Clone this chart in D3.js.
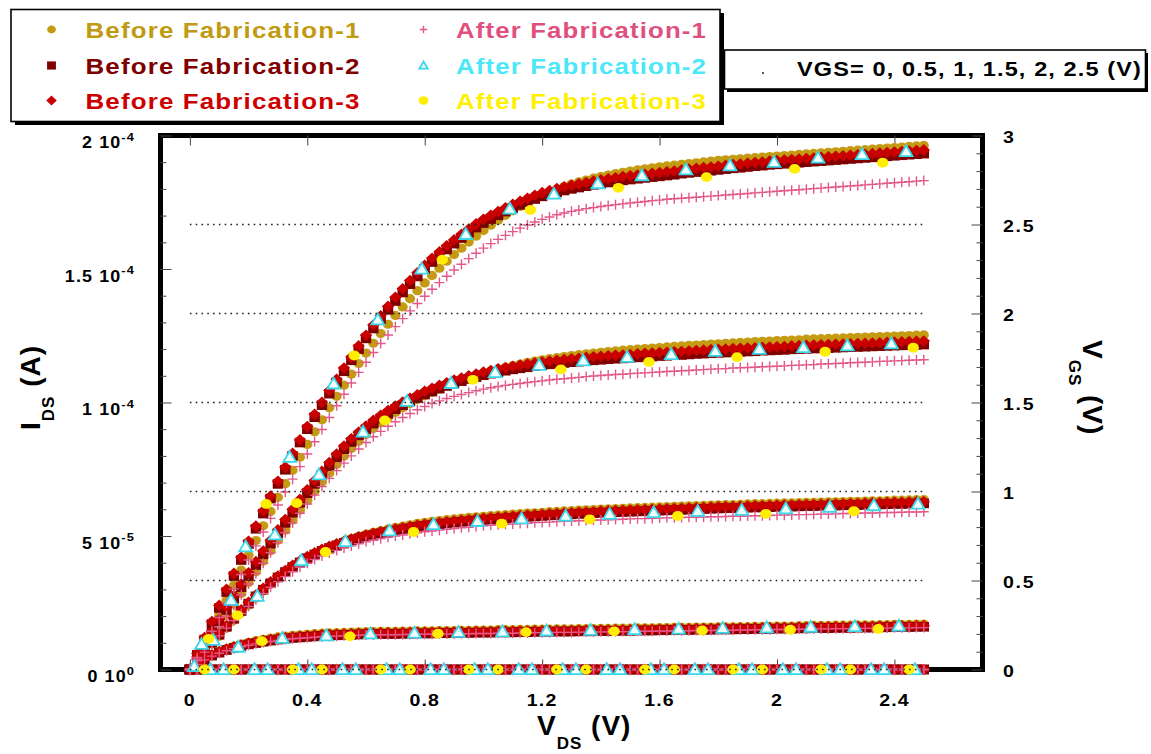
<!DOCTYPE html>
<html>
<head>
<meta charset="utf-8">
<script src="https://cdn.jsdelivr.net/npm/d3@7"></script>
<style>
  body { margin: 0; background: #fff; }
  svg { display: block; }
  text { font-family: "Liberation Sans", Arial, Helvetica, sans-serif; font-weight: bold; }
</style>
</head>
<body>
<svg id="chart" width="1151" height="754"></svg>
<script>
// ---- Data: drain current I_DS in units of 1e-5 A, sampled on the V_DS grid ----
const vds = [0,0.025,0.05,0.075,0.1,0.125,0.15,0.175,0.2,0.225,
  0.25,0.275,0.3,0.325,0.35,0.375,0.4,0.425,0.45,0.475,
  0.5,0.525,0.55,0.575,0.6,0.625,0.65,0.675,0.7,0.725,
  0.75,0.775,0.8,0.825,0.85,0.875,0.9,0.925,0.95,0.975,
  1,1.025,1.05,1.075,1.1,1.125,1.15,1.175,1.2,1.225,
  1.25,1.275,1.3,1.325,1.35,1.375,1.4,1.425,1.45,1.475,
  1.5,1.525,1.55,1.575,1.6,1.625,1.65,1.675,1.7,1.725,
  1.75,1.775,1.8,1.825,1.85,1.875,1.9,1.925,1.95,1.975,
  2,2.025,2.05,2.075,2.1,2.125,2.15,2.175,2.2,2.225,
  2.25,2.275,2.3,2.325,2.35,2.375,2.4,2.425,2.45,2.475,
  2.5];

const vgsLevels = [0, 0.5, 1, 1.5, 2, 2.5];

// Device off (VGS = 0 and 0.5 V): no measurable current
const idsOff = [0,0,0,0,0,0,0,0,0,0, 0,0,0,0,0,0,0,0,0,0, 0,0,0,0,0,0,0,0,0,0,
  0,0,0,0,0,0,0,0,0,0, 0,0,0,0,0,0,0,0,0,0, 0,0,0,0,0,0,0,0,0,0,
  0,0,0,0,0,0,0,0,0,0, 0,0,0,0,0,0,0,0,0,0, 0,0,0,0,0,0,0,0,0,0,
  0,0,0,0,0,0,0,0,0,0, 0];

// Before Fabrication-1
const b1Vgs10 = [0,0.21,0.4,0.55,0.67,0.78,0.87,0.95,1.02,1.08,
  1.13,1.18,1.22,1.25,1.28,1.3,1.32,1.34,1.36,1.37,
  1.38,1.39,1.4,1.41,1.42,1.42,1.43,1.43,1.43,1.44,
  1.44,1.45,1.45,1.45,1.46,1.46,1.46,1.47,1.47,1.48,
  1.48,1.48,1.49,1.49,1.49,1.5,1.5,1.51,1.51,1.51,
  1.52,1.52,1.52,1.53,1.53,1.53,1.54,1.54,1.55,1.55,
  1.55,1.56,1.56,1.56,1.57,1.57,1.58,1.58,1.58,1.59,
  1.59,1.59,1.6,1.6,1.6,1.61,1.61,1.62,1.62,1.62,
  1.63,1.63,1.63,1.64,1.64,1.65,1.65,1.65,1.66,1.66,
  1.66,1.67,1.67,1.67,1.68,1.68,1.69,1.69,1.69,1.7,
  1.7];
const b1Vgs15 = [0,0.33,0.64,0.95,1.25,1.55,1.84,2.13,2.41,2.68,
  2.94,3.19,3.42,3.63,3.83,4.01,4.18,4.33,4.47,4.59,
  4.7,4.8,4.9,4.99,5.07,5.14,5.2,5.26,5.32,5.37,
  5.42,5.47,5.51,5.55,5.58,5.61,5.64,5.67,5.7,5.72,
  5.74,5.76,5.78,5.8,5.82,5.84,5.86,5.87,5.89,5.91,
  5.92,5.94,5.95,5.97,5.98,5.99,6.01,6.02,6.03,6.04,
  6.05,6.06,6.07,6.08,6.09,6.1,6.11,6.12,6.13,6.14,
  6.15,6.16,6.17,6.18,6.18,6.19,6.2,6.21,6.21,6.22,
  6.23,6.24,6.24,6.25,6.26,6.26,6.27,6.28,6.28,6.29,
  6.3,6.3,6.31,6.32,6.32,6.33,6.34,6.34,6.35,6.36,
  6.36];
const b1Vgs20 = [0,0.4,0.8,1.2,1.62,2.03,2.44,2.85,3.26,3.66,
  4.06,4.45,4.84,5.22,5.6,5.97,6.33,6.68,7.02,7.35,
  7.68,7.99,8.28,8.55,8.8,9.03,9.24,9.44,9.63,9.8,
  9.96,10.11,10.25,10.38,10.5,10.62,10.73,10.83,10.93,11.02,
  11.1,11.18,11.25,11.32,11.38,11.44,11.5,11.55,11.6,11.64,
  11.68,11.72,11.76,11.79,11.82,11.85,11.88,11.91,11.93,11.96,
  11.98,12.0,12.02,12.04,12.06,12.08,12.1,12.12,12.14,12.15,
  12.17,12.19,12.2,12.22,12.23,12.25,12.26,12.28,12.29,12.3,
  12.32,12.33,12.34,12.35,12.37,12.38,12.39,12.4,12.41,12.42,
  12.43,12.44,12.45,12.46,12.47,12.48,12.49,12.5,12.51,12.52,
  12.53];
const b1Vgs25 = [0,0.45,0.95,1.48,2.02,2.58,3.15,3.72,4.28,4.83,
  5.38,5.92,6.45,6.96,7.46,7.95,8.43,8.9,9.35,9.8,
  10.23,10.65,11.06,11.46,11.85,12.22,12.58,12.93,13.26,13.58,
  13.89,14.19,14.48,14.76,15.03,15.29,15.54,15.78,16.01,16.23,
  16.44,16.64,16.83,17.01,17.18,17.34,17.49,17.63,17.76,17.88,
  17.99,18.09,18.18,18.26,18.33,18.4,18.46,18.52,18.57,18.62,
  18.67,18.71,18.75,18.79,18.83,18.86,18.89,18.92,18.95,18.98,
  19.01,19.04,19.07,19.09,19.11,19.13,19.15,19.17,19.19,19.21,
  19.23,19.25,19.27,19.29,19.31,19.33,19.35,19.37,19.39,19.41,
  19.43,19.45,19.47,19.49,19.51,19.53,19.55,19.57,19.59,19.61,
  19.63];

// Before Fabrication-2
const b2Vgs10 = [0,0.2,0.38,0.52,0.63,0.73,0.81,0.88,0.94,0.99,
  1.04,1.08,1.12,1.15,1.18,1.2,1.22,1.24,1.26,1.27,
  1.28,1.29,1.3,1.31,1.32,1.32,1.33,1.33,1.33,1.34,
  1.34,1.35,1.35,1.35,1.36,1.36,1.36,1.37,1.37,1.38,
  1.38,1.38,1.39,1.39,1.39,1.4,1.4,1.41,1.41,1.41,
  1.42,1.42,1.42,1.43,1.43,1.43,1.44,1.44,1.45,1.45,
  1.45,1.46,1.46,1.46,1.47,1.47,1.48,1.48,1.48,1.49,
  1.49,1.49,1.5,1.5,1.5,1.51,1.51,1.52,1.52,1.52,
  1.53,1.53,1.53,1.54,1.54,1.55,1.55,1.55,1.56,1.56,
  1.56,1.57,1.57,1.57,1.58,1.58,1.59,1.59,1.59,1.6,
  1.6];
const b2Vgs15 = [0,0.35,0.68,1.0,1.3,1.6,1.9,2.19,2.47,2.74,
  2.99,3.23,3.45,3.65,3.84,4.01,4.17,4.31,4.44,4.55,
  4.65,4.74,4.83,4.91,4.98,5.04,5.1,5.15,5.2,5.25,
  5.29,5.34,5.38,5.41,5.44,5.47,5.5,5.53,5.55,5.58,
  5.6,5.62,5.64,5.66,5.68,5.7,5.72,5.73,5.75,5.77,
  5.78,5.8,5.81,5.83,5.84,5.85,5.87,5.88,5.89,5.9,
  5.91,5.92,5.93,5.94,5.95,5.96,5.97,5.98,5.99,6.0,
  6.01,6.02,6.03,6.04,6.04,6.05,6.06,6.07,6.07,6.08,
  6.09,6.1,6.1,6.11,6.12,6.12,6.13,6.14,6.14,6.15,
  6.16,6.16,6.17,6.18,6.18,6.19,6.2,6.2,6.21,6.22,
  6.22];
const b2Vgs20 = [0,0.44,0.89,1.34,1.8,2.23,2.66,3.08,3.5,3.91,
  4.31,4.71,5.1,5.49,5.87,6.24,6.6,6.95,7.29,7.62,
  7.95,8.25,8.52,8.77,9.0,9.21,9.4,9.58,9.75,9.9,
  10.04,10.17,10.3,10.41,10.52,10.62,10.72,10.8,10.88,10.95,
  11.02,11.08,11.14,11.19,11.24,11.28,11.32,11.36,11.4,11.43,
  11.46,11.48,11.51,11.53,11.56,11.58,11.6,11.62,11.64,11.65,
  11.67,11.69,11.71,11.72,11.74,11.75,11.77,11.78,11.8,11.82,
  11.83,11.85,11.86,11.87,11.89,11.9,11.91,11.92,11.94,11.95,
  11.96,11.97,11.99,12.0,12.01,12.02,12.03,12.04,12.05,12.06,
  12.07,12.08,12.09,12.1,12.11,12.12,12.13,12.14,12.15,12.16,
  12.17];
const b2Vgs25 = [0,0.55,1.12,1.7,2.3,2.9,3.5,4.1,4.7,5.27,
  5.84,6.4,6.95,7.48,8.0,8.5,9.0,9.45,9.9,10.33,
  10.75,11.17,11.58,12.0,12.4,12.77,13.12,13.47,13.8,14.12,
  14.43,14.72,15.0,15.26,15.5,15.73,15.95,16.16,16.36,16.55,
  16.72,16.87,17.01,17.15,17.28,17.4,17.51,17.62,17.72,17.8,
  17.87,17.94,18.0,18.05,18.1,18.15,18.2,18.24,18.28,18.32,
  18.35,18.38,18.41,18.44,18.47,18.5,18.53,18.57,18.6,18.63,
  18.66,18.68,18.71,18.74,18.77,18.79,18.82,18.85,18.87,18.9,
  18.92,18.94,18.96,18.98,19.0,19.02,19.04,19.06,19.08,19.1,
  19.12,19.14,19.16,19.18,19.2,19.22,19.24,19.26,19.28,19.3,
  19.32];

// Before Fabrication-3
const b3Vgs10 = [0,0.21,0.4,0.55,0.67,0.77,0.85,0.92,0.98,1.03,
  1.08,1.12,1.16,1.19,1.22,1.24,1.26,1.28,1.3,1.31,
  1.32,1.33,1.34,1.35,1.36,1.36,1.37,1.37,1.37,1.38,
  1.38,1.39,1.39,1.39,1.4,1.4,1.4,1.41,1.41,1.42,
  1.42,1.42,1.43,1.43,1.43,1.44,1.44,1.45,1.45,1.45,
  1.46,1.46,1.46,1.47,1.47,1.47,1.48,1.48,1.49,1.49,
  1.49,1.5,1.5,1.5,1.51,1.51,1.52,1.52,1.52,1.53,
  1.53,1.53,1.54,1.54,1.54,1.55,1.55,1.56,1.56,1.56,
  1.57,1.57,1.57,1.58,1.58,1.59,1.59,1.59,1.6,1.6,
  1.6,1.61,1.61,1.61,1.62,1.62,1.63,1.63,1.63,1.64,
  1.64];
const b3Vgs15 = [0,0.37,0.71,1.04,1.35,1.65,1.95,2.24,2.52,2.79,
  3.04,3.28,3.5,3.71,3.9,4.07,4.23,4.37,4.5,4.61,
  4.71,4.8,4.89,4.97,5.04,5.1,5.16,5.21,5.26,5.31,
  5.35,5.4,5.44,5.47,5.5,5.53,5.56,5.59,5.61,5.64,
  5.66,5.68,5.7,5.72,5.74,5.76,5.78,5.79,5.81,5.83,
  5.84,5.86,5.87,5.89,5.9,5.91,5.93,5.94,5.95,5.96,
  5.97,5.98,5.99,6.0,6.01,6.02,6.03,6.04,6.05,6.06,
  6.07,6.08,6.09,6.1,6.1,6.11,6.12,6.13,6.13,6.14,
  6.15,6.16,6.16,6.17,6.18,6.18,6.19,6.2,6.2,6.21,
  6.22,6.22,6.23,6.24,6.24,6.25,6.26,6.26,6.27,6.28,
  6.28];
const b3Vgs20 = [0,0.47,0.94,1.41,1.88,2.33,2.77,3.2,3.62,4.04,
  4.44,4.84,5.23,5.62,6.0,6.37,6.73,7.08,7.42,7.75,
  8.07,8.37,8.64,8.89,9.12,9.33,9.52,9.7,9.87,10.02,
  10.16,10.29,10.42,10.53,10.64,10.74,10.84,10.92,11.0,11.07,
  11.14,11.2,11.26,11.31,11.36,11.4,11.44,11.48,11.52,11.55,
  11.58,11.61,11.64,11.66,11.69,11.71,11.73,11.75,11.77,11.78,
  11.8,11.82,11.84,11.85,11.87,11.88,11.9,11.91,11.93,11.95,
  11.96,11.98,11.99,12.0,12.02,12.03,12.04,12.05,12.07,12.08,
  12.09,12.1,12.12,12.13,12.14,12.15,12.16,12.17,12.18,12.19,
  12.2,12.21,12.22,12.23,12.24,12.25,12.26,12.27,12.28,12.29,
  12.3];
const b3Vgs25 = [0,0.6,1.2,1.8,2.4,3.0,3.6,4.2,4.8,5.37,
  5.94,6.5,7.05,7.58,8.1,8.6,9.1,9.56,10.01,10.45,
  10.87,11.29,11.7,12.12,12.52,12.9,13.25,13.6,13.94,14.26,
  14.57,14.86,15.14,15.4,15.64,15.87,16.09,16.3,16.5,16.69,
  16.86,17.01,17.15,17.29,17.42,17.54,17.65,17.76,17.86,17.94,
  18.01,18.08,18.14,18.19,18.24,18.29,18.34,18.38,18.42,18.46,
  18.49,18.52,18.55,18.58,18.61,18.64,18.67,18.71,18.74,18.77,
  18.8,18.82,18.85,18.88,18.91,18.93,18.96,18.99,19.01,19.04,
  19.06,19.08,19.1,19.12,19.14,19.16,19.18,19.2,19.22,19.24,
  19.26,19.28,19.3,19.32,19.34,19.36,19.38,19.4,19.42,19.44,
  19.46];

// After Fabrication-1
const a1Vgs10 = [0,0.19,0.36,0.5,0.61,0.7,0.78,0.85,0.91,0.96,
  1.01,1.05,1.09,1.12,1.15,1.17,1.19,1.21,1.23,1.24,
  1.25,1.26,1.27,1.28,1.29,1.29,1.3,1.3,1.3,1.31,
  1.31,1.32,1.32,1.32,1.33,1.33,1.33,1.34,1.34,1.35,
  1.35,1.35,1.36,1.36,1.36,1.37,1.37,1.38,1.38,1.38,
  1.39,1.39,1.39,1.4,1.4,1.4,1.41,1.41,1.42,1.42,
  1.42,1.43,1.43,1.43,1.44,1.44,1.45,1.45,1.45,1.46,
  1.46,1.46,1.47,1.47,1.47,1.48,1.48,1.49,1.49,1.49,
  1.5,1.5,1.5,1.51,1.51,1.52,1.52,1.52,1.53,1.53,
  1.53,1.54,1.54,1.54,1.55,1.55,1.56,1.56,1.56,1.57,
  1.57];
const a1Vgs15 = [0,0.33,0.65,0.96,1.26,1.55,1.83,2.1,2.36,2.61,
  2.85,3.08,3.29,3.48,3.66,3.83,3.98,4.12,4.25,4.36,
  4.46,4.55,4.63,4.71,4.78,4.84,4.9,4.95,5.0,5.04,
  5.08,5.12,5.16,5.19,5.22,5.25,5.28,5.31,5.33,5.36,
  5.38,5.4,5.42,5.44,5.45,5.47,5.48,5.5,5.51,5.52,
  5.54,5.55,5.56,5.57,5.58,5.59,5.6,5.61,5.62,5.63,
  5.64,5.65,5.65,5.66,5.67,5.68,5.68,5.69,5.7,5.7,
  5.71,5.72,5.72,5.73,5.74,5.74,5.75,5.76,5.76,5.77,
  5.78,5.78,5.79,5.8,5.8,5.81,5.82,5.82,5.83,5.84,
  5.84,5.85,5.86,5.86,5.87,5.88,5.88,5.89,5.9,5.9,
  5.91];
const a1Vgs20 = [0,0.39,0.79,1.19,1.6,2.0,2.4,2.8,3.2,3.59,
  3.98,4.37,4.75,5.12,5.49,5.85,6.2,6.53,6.85,7.16,
  7.45,7.73,8.0,8.26,8.5,8.72,8.92,9.11,9.28,9.44,
  9.59,9.73,9.85,9.96,10.06,10.15,10.23,10.3,10.37,10.44,
  10.5,10.55,10.6,10.64,10.68,10.71,10.75,10.78,10.81,10.84,
  10.87,10.89,10.92,10.94,10.97,10.99,11.01,11.03,11.05,11.06,
  11.08,11.1,11.11,11.13,11.14,11.16,11.17,11.19,11.2,11.22,
  11.23,11.25,11.26,11.27,11.29,11.3,11.31,11.32,11.34,11.35,
  11.36,11.37,11.39,11.4,11.41,11.42,11.44,11.45,11.46,11.47,
  11.49,11.5,11.51,11.52,11.54,11.55,11.56,11.57,11.58,11.59,
  11.6];
const a1Vgs25 = [0,0.45,0.93,1.43,1.95,2.48,3.02,3.56,4.1,4.63,
  5.15,5.66,6.16,6.65,7.13,7.6,8.07,8.53,8.99,9.44,
  9.88,10.31,10.73,11.13,11.51,11.87,12.21,12.53,12.84,13.14,
  13.43,13.71,13.98,14.24,14.49,14.73,14.96,15.18,15.39,15.59,
  15.78,15.95,16.11,16.26,16.4,16.53,16.65,16.76,16.86,16.95,
  17.03,17.1,17.16,17.21,17.26,17.3,17.34,17.38,17.41,17.44,
  17.47,17.5,17.53,17.56,17.58,17.61,17.63,17.65,17.67,17.69,
  17.71,17.73,17.75,17.77,17.79,17.81,17.83,17.85,17.87,17.89,
  17.91,17.93,17.95,17.97,17.99,18.01,18.03,18.05,18.07,18.09,
  18.11,18.13,18.15,18.17,18.19,18.21,18.23,18.25,18.27,18.29,
  18.31];

// After Fabrication-2: [V_DS, I_DS] pairs
const a2Vgs0 = [[0.07,0],[0.22,0],[0.37,0],[0.52,0],[0.67,0],[0.82,0],[0.97,0],[1.12,0],[1.27,0],
  [1.42,0],[1.57,0],[1.72,0],[1.87,0],[2.02,0],[2.17,0],[2.32,0],[2.47,0]];
const a2Vgs05 = [[0.115,0],[0.265,0],[0.415,0],[0.565,0],[0.715,0],[0.865,0],[1.015,0],[1.165,0],
  [1.315,0],[1.465,0],[1.615,0],[1.765,0],[1.915,0],[2.065,0],[2.215,0],[2.365,0]];
const a2Vgs10 = [[0.015,0.12],[0.165,0.84],[0.315,1.17],[0.465,1.27],[0.615,1.34],[0.765,1.37],
  [0.915,1.4],[1.065,1.42],[1.215,1.45],[1.365,1.47],[1.515,1.5],[1.665,1.52],[1.815,1.55],
  [1.965,1.57],[2.115,1.59],[2.265,1.61],[2.415,1.63]];
const a2Vgs15 = [[0.08,1.1],[0.23,2.75],[0.38,4.08],[0.53,4.8],[0.68,5.2],[0.83,5.43],[0.98,5.55],
  [1.13,5.65],[1.28,5.75],[1.43,5.82],[1.58,5.88],[1.73,5.93],[1.88,5.97],[2.03,6.02],[2.18,6.08],
  [2.33,6.14],[2.48,6.2]];
const a2Vgs20 = [[0.14,2.6],[0.29,5.05],[0.44,7.3],[0.59,8.9],[0.74,10.05],[0.89,10.72],[1.04,11.13],
  [1.19,11.4],[1.34,11.57],[1.49,11.7],[1.64,11.8],[1.79,11.92],[1.94,12.0],[2.09,12.06],[2.24,12.13],
  [2.39,12.2]];
const a2Vgs25 = [[0.04,0.95],[0.19,4.6],[0.34,7.95],[0.49,10.7],[0.64,13.1],[0.79,15.0],[0.94,16.3],
  [1.09,17.25],[1.24,17.81],[1.39,18.2],[1.54,18.5],[1.69,18.72],[1.84,18.87],[1.99,19.0],[2.14,19.16],
  [2.29,19.29],[2.44,19.4]];

// After Fabrication-3: [V_DS, I_DS] pairs
const a3Vgs0 = [[0.05,0],[0.35,0],[0.65,0],[0.95,0],[1.25,0],[1.55,0],[1.85,0],[2.15,0],[2.45,0]];
const a3Vgs05 = [[0.15,0],[0.45,0],[0.75,0],[1.05,0],[1.35,0],[1.65,0],[1.95,0],[2.25,0]];
const a3Vgs10 = [[0.245,1.06],[0.545,1.24],[0.845,1.34],[1.145,1.4],[1.445,1.43],[1.745,1.46],[2.045,1.49],[2.345,1.52]];
const a3Vgs15 = [[0.162,2.03],[0.462,4.4],[0.762,5.15],[1.062,5.46],[1.362,5.62],[1.662,5.75],[1.962,5.83],[2.262,5.93]];
const a3Vgs20 = [[0.064,1.15],[0.364,6.23],[0.664,9.33],[0.964,10.85],[1.264,11.24],[1.564,11.52],[1.864,11.7],[2.164,11.9],[2.464,12.05]];
const a3Vgs25 = [[0.26,6.2],[0.56,11.76],[0.86,15.35],[1.16,17.21],[1.46,18.04],[1.76,18.44],[2.06,18.75],[2.36,18.98]];

// Axis ticks and labels
const xTicks = [0, 0.4, 0.8, 1.2, 1.6, 2, 2.4];
const xTickLabels = ["0", "0.4", "0.8", "1.2", "1.6", "2", "2.4"];
const idsTicks = [0, 5, 10, 15, 20];           // 1e-5 A
const idsTickMantissa = ["0", "5", "1", "1.5", "2"];
const idsTickExponent = ["0", "-5", "-4", "-4", "-4"];
const vgsTicks = [0, 0.5, 1, 1.5, 2, 2.5, 3];
const vgsTickLabels = ["0", "0.5", "1", "1.5", "2", "2.5", "3"];
const legendVgsText = "VGS= 0, 0.5, 1, 1.5, 2, 2.5 (V)";

// ---- Series (styles kept apart from the values) ----
const denseSeries = [
  { label: "Before Fabrication-1", shape: "circle", color: "#C49B12", text: "#C09A12",
    curves: [idsOff, idsOff, b1Vgs10, b1Vgs15, b1Vgs20, b1Vgs25] },
  { label: "Before Fabrication-2", shape: "square", color: "#7E0000", text: "#800000",
    curves: [idsOff, idsOff, b2Vgs10, b2Vgs15, b2Vgs20, b2Vgs25] },
  { label: "Before Fabrication-3", shape: "diamond", color: "#C80000", text: "#CC0000",
    curves: [idsOff, idsOff, b3Vgs10, b3Vgs15, b3Vgs20, b3Vgs25] },
  { label: "After Fabrication-1", shape: "plus", color: "#E4578A", text: "#E0507E",
    curves: [idsOff, idsOff, a1Vgs10, a1Vgs15, a1Vgs20, a1Vgs25] }
];
const sparseSeries = [
  { label: "After Fabrication-2", shape: "triangle", color: "#3AD6EA", text: "#4AE8F8",
    curves: [a2Vgs0, a2Vgs05, a2Vgs10, a2Vgs15, a2Vgs20, a2Vgs25] },
  { label: "After Fabrication-3", shape: "yellowdot", color: "#FFEE00", text: "#FFF000",
    curves: [a3Vgs0, a3Vgs05, a3Vgs10, a3Vgs15, a3Vgs20, a3Vgs25] }
];

// ---- Scales ----
const svg = d3.select("#chart");
const plotL = 160.5, plotR = 982.5, plotT = 135.5, plotB = 669.5;
const x = d3.scaleLinear().domain([-0.1, 2.7]).range([plotL, plotR]);
const yI = d3.scaleLinear().domain([0, 20]).range([plotB, plotT]);
const yV = d3.scaleLinear().domain([0, 3]).range([plotB, plotT]);

// ---- Frame: four solid bars, 5 px, aligned to whole pixels ----
const fw = 5;
const frame = svg.append("g").attr("fill", "#000").attr("shape-rendering", "crispEdges");
frame.append("rect").attr("x", plotL - fw / 2).attr("y", plotT - fw / 2).attr("width", plotR - plotL + fw).attr("height", fw);
frame.append("rect").attr("x", plotL - fw / 2).attr("y", plotB - fw / 2).attr("width", plotR - plotL + fw).attr("height", fw);
frame.append("rect").attr("x", plotL - fw / 2).attr("y", plotT - fw / 2).attr("width", fw).attr("height", plotB - plotT + fw);
frame.append("rect").attr("x", plotR - fw / 2).attr("y", plotT - fw / 2).attr("width", fw).attr("height", plotB - plotT + fw);

// ---- Tick marks (pointing into the plot) ----
function styleTicks(g) {
  g.select(".domain").remove();
  g.selectAll(".tick line").attr("stroke", "#444").attr("stroke-width", 1);
  g.selectAll(".tick text").remove();
}
const minorI = d3.range(0, 20.5, 1).filter(v => v % 5 !== 0);
const minorV = d3.range(0, 30.5, 1).map(v => v / 10).filter(v => Math.round(v * 10) % 5 !== 0);
svg.append("g").attr("transform", `translate(${plotL},0)`)
  .call(d3.axisRight(yI).tickValues(idsTicks).tickSize(11)).call(styleTicks);
svg.append("g").attr("transform", `translate(${plotL},0)`)
  .call(d3.axisRight(yI).tickValues(minorI).tickSize(6)).call(styleTicks);
svg.append("g").attr("transform", `translate(${plotR},0)`)
  .call(d3.axisLeft(yV).tickValues(vgsTicks).tickSize(11)).call(styleTicks);
svg.append("g").attr("transform", `translate(${plotR},0)`)
  .call(d3.axisLeft(yV).tickValues(minorV).tickSize(6)).call(styleTicks);
svg.append("g").attr("transform", `translate(0,${plotB})`)
  .call(d3.axisTop(x).tickValues(xTicks).tickSize(10)).call(styleTicks);
svg.append("g").attr("transform", `translate(0,${plotT})`)
  .call(d3.axisBottom(x).tickValues(xTicks).tickSize(10)).call(styleTicks);

// ---- Markers ----
const shapes = {
  square: "M-5.2,-4.8H5.2V4.8H-5.2Z",
  diamond: "M0,-5.8L6.2,0L0,5.8L-6.2,0Z",
  plus: "M-5,0H5M0,-5V5",
  triangle: "M0,-6.2L6.4,4.7L-6.4,4.7Z"
};
function drawMarkers(g, pts, s, scale) {
  const k = scale || 1;
  if (s.shape === "circle" || s.shape === "yellowdot") {
    const rx = (s.shape === "circle" ? 5.1 : 5.7) * k, ry = (s.shape === "circle" ? 4.6 : 4.9) * k;
    g.selectAll(null).data(pts).join("ellipse")
      .attr("cx", d => d[0]).attr("cy", d => d[1]).attr("rx", rx).attr("ry", ry)
      .attr("fill", s.color);
  } else {
    const p = g.selectAll(null).data(pts).join("path")
      .attr("d", shapes[s.shape])
      .attr("transform", d => `translate(${d[0]},${d[1]}) scale(${k})`);
    if (s.shape === "plus") p.attr("fill", "none").attr("stroke", s.color).attr("stroke-width", 1.4 / k);
    else if (s.shape === "triangle") p.attr("fill", "#F2FFFF").attr("stroke", s.color).attr("stroke-width", 1.8 / k);
    else p.attr("fill", s.color);
  }
}
const plot = svg.append("g");
denseSeries.forEach(s => {
  const pts = [];
  s.curves.forEach(c => c.forEach((ids, i) => pts.push([x(vds[i]), yI(ids)])));
  drawMarkers(plot.append("g"), pts, s);
});
sparseSeries.forEach(s => {
  const pts = [];
  s.curves.forEach(c => c.forEach(d => pts.push([x(d[0]), yI(d[1])])));
  drawMarkers(plot.append("g"), pts, s);
});

// Gate-voltage reference levels on the right axis
plot.append("g").selectAll("line").data(vgsLevels).join("line")
  .attr("x1", x(vds[0])).attr("x2", x(vds[vds.length - 1]))
  .attr("y1", d => yV(d)).attr("y2", d => yV(d))
  .attr("stroke", "#222").attr("stroke-width", 1.6).attr("stroke-dasharray", "1.6 4.2");

// ---- Tick labels (slightly widened lettering) ----
svg.append("g").selectAll("g").data(xTicks).join("g")
  .attr("transform", d => `translate(${x(d)},706) scale(1.15,1)`)
  .append("text").attr("text-anchor", "middle")
  .attr("font-size", 17).style("letter-spacing", "1px")
  .text((d, i) => xTickLabels[i]);

const yl = svg.append("g").selectAll("g").data(idsTicks).join("g")
  .attr("transform", d => `translate(135,${yI(d) + 12.5}) scale(1.12,1)`)
  .append("text").attr("text-anchor", "end")
  .attr("font-size", 16).style("letter-spacing", "1px");
yl.append("tspan").text((d, i) => idsTickMantissa[i] + " 10");
yl.append("tspan").attr("dy", -7.5).attr("font-size", 11.5).text((d, i) => idsTickExponent[i]);

svg.append("g").selectAll("g").data(vgsTicks).join("g")
  .attr("transform", d => `translate(1003,${yV(d) + 7}) scale(1.15,1)`)
  .append("text").attr("font-size", 17).style("letter-spacing", "1.5px")
  .text((d, i) => vgsTickLabels[i]);

// ---- Axis titles ----
function titleWithSub(g, main, sub, tail) {
  const t = g.append("text").attr("font-size", 28).style("letter-spacing", "1px");
  t.append("tspan").text(main);
  t.append("tspan").attr("dy", 14).attr("font-size", 17).text(sub);
  t.append("tspan").attr("dy", -14).text(tail);
  return t;
}
titleWithSub(svg.append("g").attr("transform", "translate(537,735)"), "V", "DS", " (V)");
titleWithSub(svg.append("g").attr("transform", "translate(40,430) rotate(-90)"), "I", "DS", " (A)");
titleWithSub(svg.append("g").attr("transform", "translate(1083,340) rotate(90)"), "V", "GS", " (V)");

// ---- Legend: series ----
const lg = svg.append("g");
lg.append("rect").attr("x", 15).attr("y", 13).attr("width", 709).attr("height", 112).attr("fill", "#000");
lg.append("rect").attr("x", 11).attr("y", 9.5).attr("width", 709).attr("height", 112)
  .attr("fill", "#fff").attr("stroke", "#000").attr("stroke-width", 1.6);
const legendSeries = denseSeries.slice(0, 3).concat([denseSeries[3]], sparseSeries);
const rowY = [29.5, 65.5, 100.5];
legendSeries.forEach((s, i) => {
  const col = i < 3 ? 0 : 1, row = i % 3;
  const mx = col === 0 ? 51.5 : 423.5;
  drawMarkers(lg.append("g"), [[mx, rowY[row]]], s, s.shape === "triangle" ? 0.65 : (s.shape === "plus" ? 0.75 : 0.85));
  lg.append("text").attr("x", col === 0 ? 85.5 : 456).attr("y", rowY[row] + 8.3)
    .attr("font-size", 22).attr("fill", s.text).style("letter-spacing", "1px")
    .attr("textLength", col === 0 ? 275 : 251).attr("lengthAdjust", "spacingAndGlyphs")
    .text(s.label);
});

// ---- Legend: gate voltage levels ----
const lv = svg.append("g");
lv.append("rect").attr("x", 727).attr("y", 53).attr("width", 421).attr("height", 39).attr("fill", "#000");
lv.append("rect").attr("x", 724.5).attr("y", 50).attr("width", 421).attr("height", 39)
  .attr("fill", "#fff").attr("stroke", "#000").attr("stroke-width", 1.6);
lv.append("circle").attr("cx", 763).attr("cy", 73).attr("r", 1).attr("fill", "#222");
lv.append("text").attr("x", 797).attr("y", 76).attr("font-size", 21).style("letter-spacing", "1px")
  .attr("textLength", 345).attr("lengthAdjust", "spacingAndGlyphs").text(legendVgsText);
</script>
</body>
</html>
